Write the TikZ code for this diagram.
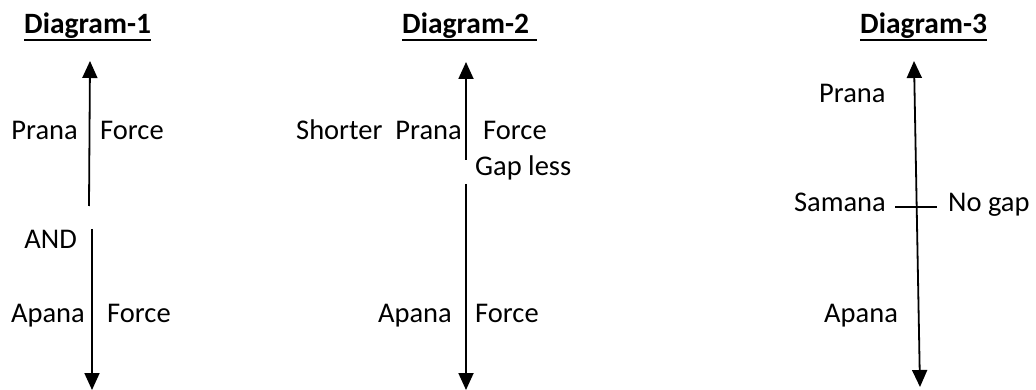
\documentclass[tikz,border=0pt]{standalone}
\usepackage{fontspec}
\setmainfont{Carlito}
\usetikzlibrary{arrows.meta}
\begin{document}
\begin{tikzpicture}[x=1pt,y=-1pt,
  lbl/.style={inner sep=0pt,font=\fontsize{28.5}{34}\selectfont},
  ttl/.style={inner sep=0pt,font=\fontsize{29.5}{34}\selectfont\bfseries},
  uline/.style={line width=1.6pt},
  arr/.style={line width=1.8pt,-{Triangle[width=15pt,length=17pt]}},
  darr/.style={line width=1.8pt,{Triangle[width=15pt,length=17pt]}-{Triangle[width=15pt,length=17pt]}},
  seg/.style={line width=1.6pt}]
\useasboundingbox (0,0) rectangle (1036,390);
% ---------- Diagram 1
\node[ttl,anchor=base west] (t1) at (24,34) {Diagram-1};
\draw[uline] ([yshift=-6pt]t1.base west) -- ([yshift=-6pt]t1.base east);
\coordinate (a1s) at (89,206);
\coordinate (a1e) at (90,61);
\draw[arr] (a1s) -- (a1e);
\coordinate (b1s) at (92,229);
\coordinate (b1e) at (92,390);
\draw[arr] (b1s) -- (b1e);
\node[lbl,anchor=base east] (p1) at (78,140) {Prana};
\node[lbl,anchor=base west] (f1) at (100,140) {Force};
\node[lbl,anchor=base east] (and1) at (77,248) {AND};
\node[lbl,anchor=base east] (ap1) at (85,322) {Apana};
\node[lbl,anchor=base west] (f1b) at (107,322) {Force};
% ---------- Diagram 2
\node[ttl,anchor=base west] (t2) at (402,34) {Diagram-2};
\coordinate (t2u) at (537,34);
\draw[uline] ([yshift=-6pt]t2.base west) -- ([yshift=-6pt]t2u);
\coordinate (a2s) at (466,160);
\coordinate (a2e) at (466,62);
\draw[arr] (a2s) -- (a2e);
\coordinate (b2s) at (466,184);
\coordinate (b2e) at (466,390);
\draw[arr] (b2s) -- (b2e);
\node[lbl,anchor=base east] (sp2) at (462,140) {Shorter\ \ Prana};
\node[lbl,anchor=base west] (f2) at (483,140) {Force};
\node[lbl,anchor=base west] (g2) at (475,176) {Gap less};
\node[lbl,anchor=base east] (ap2) at (452,322) {Apana};
\node[lbl,anchor=base west] (f2b) at (475,322) {Force};
% ---------- Diagram 3
\node[ttl,anchor=base west] (t3) at (860,34) {Diagram-3};
\draw[uline] ([yshift=-6pt]t3.base west) -- ([yshift=-6pt]t3.base east);
\coordinate (c3t) at (914,61);
\coordinate (c3b) at (920,387);
\draw[darr] (c3b) -- (c3t);
\coordinate (h3l) at (895,207);
\coordinate (h3r) at (937,207);
\draw[seg] (h3l) -- (h3r);
\node[lbl,anchor=base west] (p3) at (819,103) {Prana};
\node[lbl,anchor=base east] (s3) at (886,212) {Samana};
\node[lbl,anchor=base west] (n3) at (948,212) {No gap};
\node[lbl,anchor=base west] (ap3) at (824,322) {Apana};
\end{tikzpicture}
\end{document}
